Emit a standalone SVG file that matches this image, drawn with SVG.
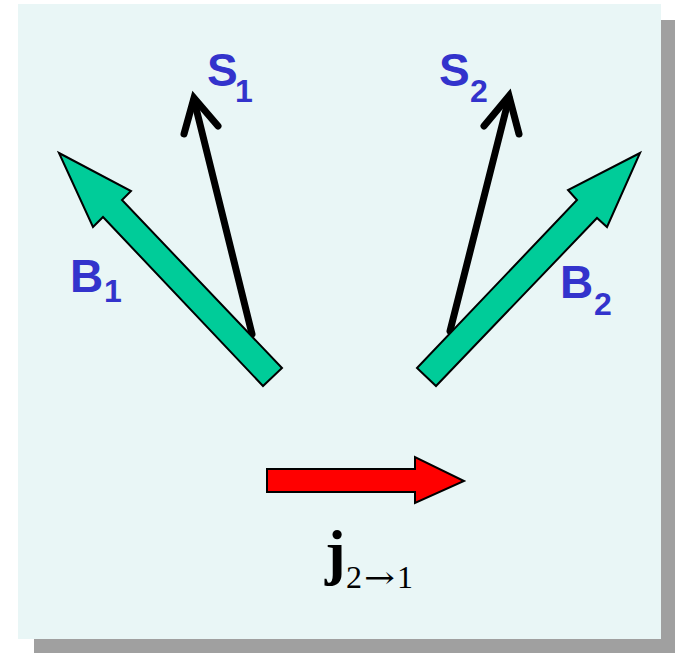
<svg xmlns="http://www.w3.org/2000/svg" width="675" height="653" viewBox="0 0 675 653">
<style>
.lbl{font-family:"Liberation Sans",Arial,sans-serif;font-weight:bold;fill:#3333CC}
.big{font-size:46px}
.sub{font-size:32px}
.green{fill:#00CC99;stroke:#000;stroke-width:2;stroke-linejoin:miter}
.vec{fill:none;stroke:#000;stroke-width:7;stroke-linecap:round}
.head{fill:none;stroke:#000;stroke-width:7;stroke-linecap:round;stroke-linejoin:miter;stroke-miterlimit:10}
.tm{font-family:"Liberation Serif","Times New Roman",serif;fill:#000}
</style>
<rect x="34" y="20" width="641" height="633" fill="#A0A0A0"/>
<rect x="18" y="4" width="643" height="635" fill="#E9F6F6"/>
<g id="connectors">
  <g id="S1-arrow">
    <line class="vec" x1="252" y1="334" x2="194" y2="100"/>
    <polyline class="head" points="184,134 194,98 218,126"/>
  </g>
  <g id="S2-arrow">
    <line class="vec" x1="450" y1="331" x2="509" y2="98"/>
    <polyline class="head" points="484,126 509,96 519,134"/>
  </g>
  <polygon id="B1-arrow" class="green" points="59,153 131,191 122,200 282,368 263,386 103,217 93,227"/>
  <polygon id="B2-arrow" class="green" points="640,153 568,190 577,200 417,368 436,386 597,218 607,227"/>
  <polygon id="j-arrow" fill="#FF0000" stroke="#000" stroke-width="2" points="267,469 415,469 415,457 464,481 415,503 415,492 267,492"/>
</g>
<g id="S1">
  <text class="lbl" x="207" y="86"><tspan class="big">S</tspan><tspan class="sub" x="235" y="102">1</tspan></text>
</g>
<g id="S2">
  <text class="lbl" x="439" y="86"><tspan class="big">S</tspan><tspan class="sub" x="470" y="102">2</tspan></text>
</g>
<g id="B1">
  <text class="lbl" x="70" y="292"><tspan class="big">B</tspan><tspan class="sub" x="104" y="302">1</tspan></text>
</g>
<g id="B2">
  <text class="lbl" x="560" y="298"><tspan class="big">B</tspan><tspan class="sub" x="594" y="315">2</tspan></text>
</g>
<g id="j-label">
  <text class="tm" x="325" y="573" font-size="62" font-weight="bold">j</text>
  <text class="tm" font-size="32" y="588"><tspan x="346">2</tspan><tspan x="364" textLength="31" lengthAdjust="spacingAndGlyphs" font-family="'DejaVu Serif',serif" font-size="30">→</tspan><tspan x="397">1</tspan></text>
</g>
</svg>
